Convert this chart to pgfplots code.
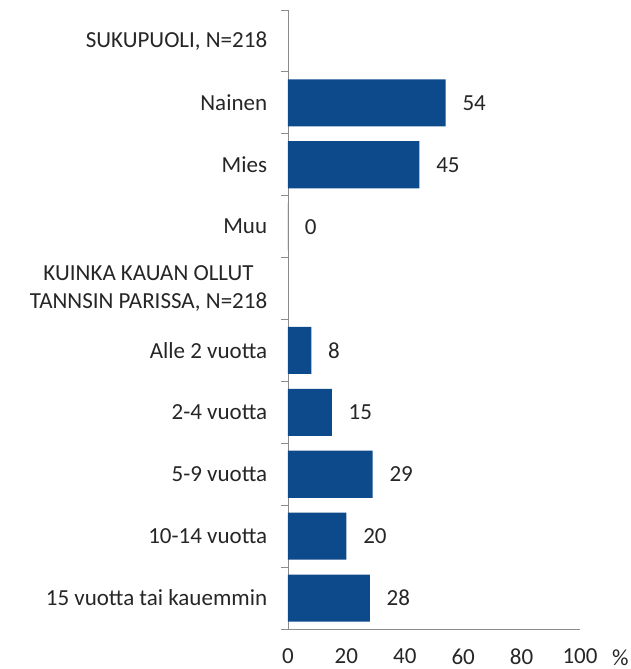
\documentclass[border=0pt]{standalone}
\usepackage{pgfplots}
\pgfplotsset{compat=1.18}
\usepackage{fontspec}
\setmainfont{Carlito}
\definecolor{barblue}{HTML}{0D4A8B}
\definecolor{axgray}{HTML}{8C8C8C}
\definecolor{txt}{HTML}{262626}
\newcommand{\lblfont}{\fontsize{23pt}{28pt}\selectfont}

\begin{document}
\lblfont
\begin{tikzpicture}
\path[use as bounding box] (-288pt,-40pt) rectangle (343pt,629pt);
\begin{axis}[
    scale only axis,
    width=292pt, height=619pt,
    xmin=0, xmax=100,
    ymin=-0.5, ymax=9.5,
    xbar, bar width=0.76, bar shift=0pt,
    axis x line*=bottom, axis y line*=left,
    axis line style={axgray, line width=0.8pt},
    xtick={0,20,...,100},
    xtick style={draw=none},
    xticklabel style={font=\lblfont, text=txt, yshift=-5pt},
    /pgf/number format/assume math mode=true,
    ytick={-0.5,0.5,...,9.5},
    y tick label as interval,
    yticklabels={15 vuotta tai kauemmin,10-14 vuotta,5-9 vuotta,2-4 vuotta,Alle 2 vuotta,{KUINKA KAUAN OLLUT\\TANNSIN PARISSA, N=218},Muu,Mies,Nainen,{SUKUPUOLI, N=218}},
    ytick style={draw=axgray, line width=0.8pt},
    major tick length=7pt, tick align=outside,
    yticklabel style={font=\lblfont, text=txt, align=center, xshift=-6pt},
    nodes near coords,
    every node near coord/.append style={font=\lblfont, text=txt, anchor=west, xshift=9pt},
    clip=false,
]
\addplot[fill=barblue, draw=none] coordinates {
    (28,0) (20,1) (29,2) (15,3) (8,4) (0,6) (45,7) (54,8)
};
\node[text=txt, anchor=base west, inner sep=0pt] at (rel axis cs:1,0) [xshift=32pt, yshift=-36pt] {\%};
\end{axis}
\end{tikzpicture}
\end{document}
